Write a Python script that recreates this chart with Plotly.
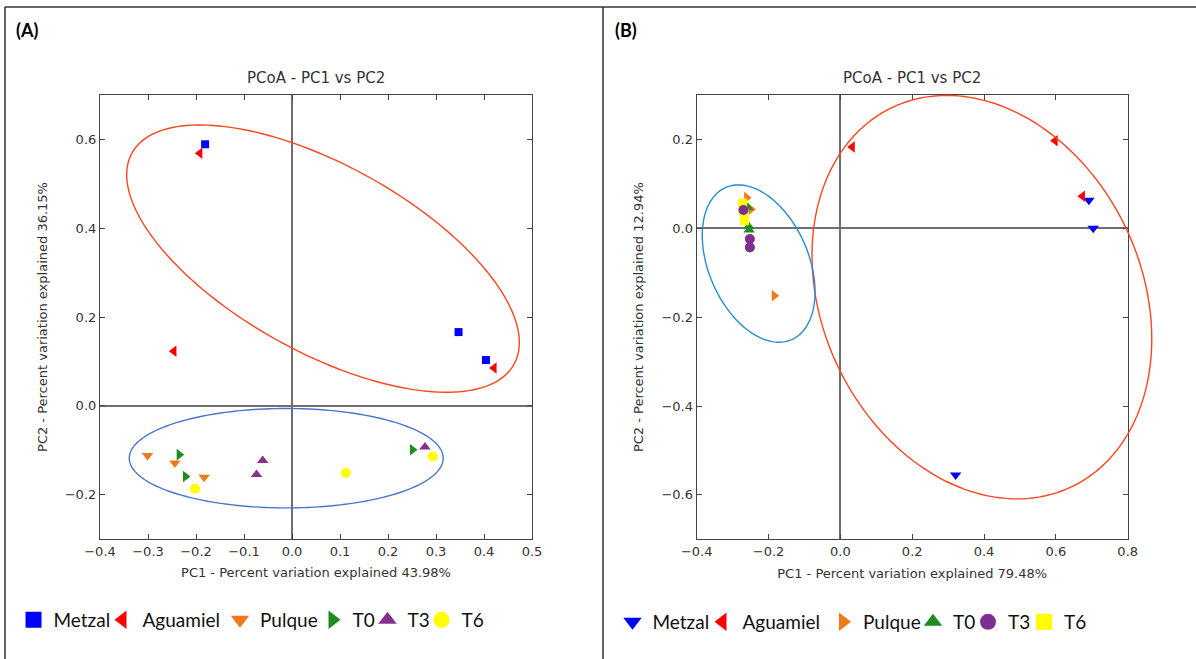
import numpy as np
import plotly.graph_objects as go

W, H = 1196, 659

# ---------------- data ----------------
groups = ["Metzal", "Aguamiel", "Pulque", "T0", "T3", "T6"]

# Panel A
a_metzal_x = [-0.181, 0.347, 0.404]
a_metzal_y = [0.589, 0.166, 0.103]
a_aguamiel_x = [-0.192, -0.246, 0.421]
a_aguamiel_y = [0.569, 0.123, 0.085]
a_pulque_x = [-0.301, -0.244, -0.183]
a_pulque_y = [-0.112, -0.129, -0.161]
a_t0_x = [-0.235, -0.222, 0.251]
a_t0_y = [-0.110, -0.159, -0.099]
a_t3_x = [-0.061, -0.074, 0.277]
a_t3_y = [-0.123, -0.155, -0.093]
a_t6_x = [-0.202, 0.112, 0.293]
a_t6_y = [-0.187, -0.151, -0.114]

# Panel B
b_metzal_x = [0.692, 0.704, 0.321]
b_metzal_y = [0.063, 0.0, -0.555]
b_aguamiel_x = [0.033, 0.598, 0.674]
b_aguamiel_y = [0.183, 0.197, 0.072]
b_pulque_x = [-0.261, -0.249, -0.184]
b_pulque_y = [0.069, 0.043, -0.152]
b_t0_x = [-0.258, -0.254, -0.255]
b_t0_y = [0.047, -0.004, 0.004]
b_t3_x = [-0.270, -0.252, -0.252]
b_t3_y = [0.041, -0.024, -0.043]
b_t6_x = [-0.272, -0.269, -0.267]
b_t6_y = [0.057, 0.036, 0.017]

a_symbols = ["square", "triangle-left", "triangle-down", "triangle-right", "triangle-up", "circle"]
b_symbols = ["triangle-down", "triangle-left", "triangle-right", "triangle-up", "circle", "square"]
a_colors = ["#0000FF", "#FF0000", "#F07A1A", "#1E8B22", "#84308C", "#FFFF00"]
b_colors = ["#0000FF", "#FF0000", "#F07A1A", "#1E8B22", "#7E2E8E", "#FFFF00"]
a_sizes = [8, 10, 10, 10, 10, 10]
b_sizes = [10, 10, 10, 10, 10, 9]

# ellipses: centre x, centre y, half width, half height, y-offset at the right-most point (data units)
a_ell_red = (0.0646, 0.3315, 0.409, 0.301, -0.189)
a_ell_blue = (-0.012, -0.118, 0.327, 0.112, 0.0)
b_ell_red = (0.394, -0.155, 0.473, 0.454, -0.094)
b_ell_blue = (-0.2275, -0.0794, 0.157, 0.177, -0.0634)

# legend entry left positions (px)
a_legend_x = [13.5, 102.5, 220, 312.5, 367.5, 421.5]
b_legend_x = [612.5, 702.5, 823, 913, 968, 1024]

# ---------------- geometry ----------------
a_xdom = [100 / W, 532 / W]
a_ydom = [1 - 539 / H, 1 - 95 / H]
a_xr = [-0.4, 0.5]
a_yr = [-0.3, 0.7]
b_xdom = [696.7 / W, 1127.7 / W]
b_ydom = [1 - 539.3 / H, 1 - 95 / H]
b_xr = [-0.4, 0.8]
b_yr = [-0.7, 0.3]

fig = go.Figure()

a_data = [(a_metzal_x, a_metzal_y), (a_aguamiel_x, a_aguamiel_y), (a_pulque_x, a_pulque_y),
          (a_t0_x, a_t0_y), (a_t3_x, a_t3_y), (a_t6_x, a_t6_y)]
b_data = [(b_metzal_x, b_metzal_y), (b_aguamiel_x, b_aguamiel_y), (b_pulque_x, b_pulque_y),
          (b_t0_x, b_t0_y), (b_t6_x, b_t6_y), (b_t3_x, b_t3_y)]
b_order = [0, 1, 2, 3, 5, 4]

for i, (xs, ys) in enumerate(a_data):
    fig.add_trace(go.Scatter(x=xs, y=ys, mode="markers", xaxis="x", yaxis="y",
                             marker=dict(symbol=a_symbols[i], color=a_colors[i], size=a_sizes[i]),
                             name=groups[i], showlegend=False))
for j, (xs, ys) in enumerate(b_data):
    i = b_order[j]
    fig.add_trace(go.Scatter(x=xs, y=ys, mode="markers", xaxis="x2", yaxis="y2",
                             marker=dict(symbol=b_symbols[i], color=b_colors[i], size=b_sizes[i]),
                             name=groups[i], showlegend=False))

# legend entries (one legend per entry so each can be placed like the reference)
legends = {}
n = 0
for panel, syms, cols, lxs, ax in [("a", a_symbols, a_colors, a_legend_x, ("x", "y")),
                                   ("b", b_symbols, b_colors, b_legend_x, ("x2", "y2"))]:
    for i in range(6):
        n += 1
        lname = "legend" if n == 1 else f"legend{n}"
        fig.add_trace(go.Scatter(x=[None], y=[None], mode="markers", xaxis=ax[0], yaxis=ax[1],
                                 marker=dict(symbol=syms[i], color=cols[i], size=16),
                                 name=groups[i], showlegend=True, legend=lname))
        yc = 620 if panel == "a" else 622
        legends[lname] = dict(x=lxs[i] / W, y=1 - yc / H, xanchor="left", yanchor="middle",
                              orientation="h", bgcolor="rgba(0,0,0,0)", borderwidth=0,
                              font=dict(family="Lato", size=19, color="#111"))


def ellipse_path(e, xdom, xr, ydom, yr):
    cx, cy, hw, hh, k = e
    t = np.linspace(0, 2 * np.pi, 181)
    xs = cx + hw * np.cos(t)
    ys = cy + k * np.cos(t) + np.sqrt(hh ** 2 - k ** 2) * np.sin(t)
    px = xdom[0] + (xs - xr[0]) / (xr[1] - xr[0]) * (xdom[1] - xdom[0])
    py = ydom[0] + (ys - yr[0]) / (yr[1] - yr[0]) * (ydom[1] - ydom[0])
    return "M " + " L ".join(f"{a:.5f},{b:.5f}" for a, b in zip(px, py)) + " Z"


shapes = []
for e, col, (xd, xr, yd, yr) in [(a_ell_red, "#F9461F", (a_xdom, a_xr, a_ydom, a_yr)),
                                 (a_ell_blue, "#4A78C8", (a_xdom, a_xr, a_ydom, a_yr)),
                                 (b_ell_red, "#F9461F", (b_xdom, b_xr, b_ydom, b_yr)),
                                 (b_ell_blue, "#2A8AD4", (b_xdom, b_xr, b_ydom, b_yr))]:
    shapes.append(dict(type="path", xref="paper", yref="paper", path=ellipse_path(e, xd, xr, yd, yr),
                       line=dict(color=col, width=1.4), layer="above"))

# table borders
bl = dict(color="#333", width=1.5)
shapes += [
    dict(type="line", xref="paper", yref="paper", x0=5 / W, x1=1, y0=1 - 7 / H, y1=1 - 7 / H, line=bl),
    dict(type="line", xref="paper", yref="paper", x0=5 / W, x1=5 / W, y0=0, y1=1 - 7 / H, line=bl),
    dict(type="line", xref="paper", yref="paper", x0=603 / W, x1=603 / W, y0=0, y1=1 - 7 / H, line=bl),
]

AXFONT = dict(family="DejaVu Sans", size=13, color="#333")


def axis(dom, rng, dtick, title, standoff):
    return dict(domain=dom, range=rng, dtick=dtick, tick0=0, tickformat=".1f", automargin=False,
                showline=True, linecolor="#444", linewidth=1.2, mirror="ticks",
                ticks="inside", ticklen=5, tickcolor="#444", tickwidth=1.2,
                zeroline=True, zerolinecolor="#6f6f6f", zerolinewidth=1.6,
                showgrid=False, tickfont=AXFONT,
                title=dict(text=title, font=AXFONT, standoff=standoff))


layout = dict(
    width=W, height=H, margin=dict(l=0, r=0, t=0, b=0, pad=0, autoexpand=False),
    paper_bgcolor="white", plot_bgcolor="white",
    xaxis=axis(a_xdom, a_xr, 0.1, "PC1 - Percent variation explained 43.98%", 10),
    yaxis=axis(a_ydom, a_yr, 0.2, "PC2 - Percent variation explained 36.15%", 14),
    xaxis2=dict(axis(b_xdom, b_xr, 0.2, "PC1 - Percent variation explained 79.48%", 10), anchor="y2"),
    yaxis2=dict(axis(b_ydom, b_yr, 0.2, "PC2 - Percent variation explained 12.94%", 14), anchor="x2"),
    shapes=shapes,
    annotations=[
        dict(text="<b>(A)</b>", x=14 / W, y=1 - 30 / H, xref="paper", yref="paper", xanchor="left",
             yanchor="middle", showarrow=False, font=dict(family="Lato", size=18, color="black")),
        dict(text="<b>(B)</b>", x=613 / W, y=1 - 30 / H, xref="paper", yref="paper", xanchor="left",
             yanchor="middle", showarrow=False, font=dict(family="Lato", size=18, color="black")),
        dict(text="PCoA - PC1 vs PC2", x=(a_xdom[0] + a_xdom[1]) / 2, y=1 - 78 / H, xref="paper",
             yref="paper", xanchor="center", yanchor="middle", showarrow=False,
             font=dict(family="DejaVu Sans", size=15, color="#333")),
        dict(text="PCoA - PC1 vs PC2", x=(b_xdom[0] + b_xdom[1]) / 2, y=1 - 78 / H, xref="paper",
             yref="paper", xanchor="center", yanchor="middle", showarrow=False,
             font=dict(family="DejaVu Sans", size=15, color="#333")),
    ],
)
layout.update(legends)
fig.update_layout(**layout)

fig.write_html("out.html")
